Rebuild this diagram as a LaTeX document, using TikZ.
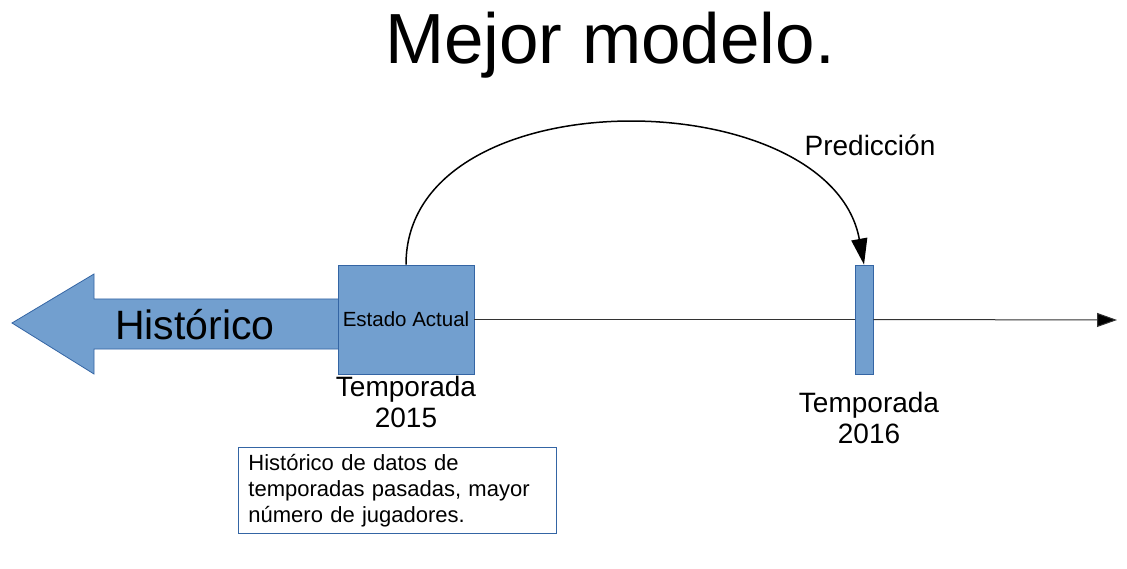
\documentclass[tikz,border=0pt]{standalone}
\usepackage{fontspec}
\setmainfont{Liberation Sans}
\usetikzlibrary{arrows.meta}
\definecolor{lofill}{HTML}{729FCF}
\definecolor{loline}{HTML}{3465A4}

\begin{document}
\begin{tikzpicture}[x=1pt,y=-1pt,>={Triangle[length=20pt,width=14pt,fill=black]},
  bloque/.style={draw=loline,fill=lofill,line width=0.8pt,inner sep=0pt},
  etiqueta/.style={align=center,font=\fontsize{28}{31}\selectfont}]
  \useasboundingbox (0,0) rectangle (1127,569);
  \node (titulo) at (610,45) {\fontsize{71}{80}\selectfont Mejor modelo.};
  \filldraw[draw=loline,fill=lofill,line width=0.8pt] (12,323) -- (94,274) -- (94,299) -- (340,299)
    -- (340,349) -- (94,349) -- (94,374) -- cycle;
  \node (hist) at (195,325) {\fontsize{41}{45}\selectfont Histórico};
  \node[bloque,minimum width=136pt,minimum height=109pt] (actual) at (406,319.5)
    {\fontsize{20.5}{23}\selectfont Estado Actual};
  \node[bloque,minimum width=18pt,minimum height=109pt] (t16) at (864,319.5) {};
  \coordinate (fin) at (1117,320);
  \draw[black!80,line width=1pt] (actual.east) -- (t16.west);
  \draw[->,black!80,line width=1pt] (t16.east) -- (fin);
  \draw[->,line width=1.5pt,>={Triangle[length=26pt,width=16pt]}] (actual.north)
    .. controls (406,75) and (830,80) .. (t16.north);
  \node (pred) at (870,145) {\fontsize{28}{31}\selectfont Predicción};
  \node[etiqueta] (temp15) at (406,402) {Temporada\\2015};
  \node[etiqueta] (temp16) at (869,418) {Temporada\\2016};
  \node[draw=loline,line width=0.8pt,anchor=north west,text width=298pt,inner xsep=10pt,
    minimum height=86pt,align=left,font=\fontsize{22}{26}\selectfont] (nota) at (238,447)
    {Histórico de datos de\\temporadas pasadas, mayor\\número de jugadores.};
\end{tikzpicture}
\end{document}
